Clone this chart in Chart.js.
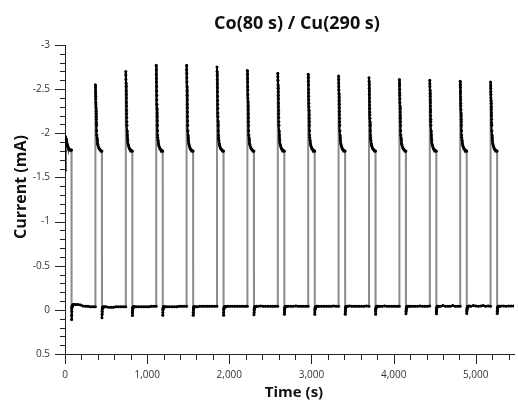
<!DOCTYPE html>
<html>
<head>
<meta charset="utf-8">
<script src="https://cdn.jsdelivr.net/npm/chart.js@4"></script>
<style>
  body { margin: 0; background: #fff; }
</style>
</head>
<body>
<canvas id="chart" width="518" height="401"></canvas>
<script>
// start time of each Co pulse (s); Co lasts 80 s, then Cu 290 s
const coStarts = [0, 370, 740, 1110, 1480, 1850, 2220, 2590, 2960, 3330, 3700, 4070, 4440, 4810, 5180];
const endTime = 5460;

// sample times inside a pulse, relative to its start
const coOffsets = [0,1,2,3,4,5,6,7,8,9,10,11,12,13,14,16,18,20,23,26,30,36,44,52,60,68,74,79];
const cuOffsets = [80,81,82,83,85,87,90,94,100,110,130,160,190,220,250,280,310,340,369];

// current during Co pulses (mA)
const coValues = [
  [-1.58,-1.80,-1.91,-1.95,-1.96,-1.96,-1.95,-1.95,-1.94,-1.94,-1.94,-1.93,-1.93,-1.93,-1.92,-1.92,-1.91,-1.90,-1.89,-1.88,-1.86,-1.85,-1.83,-1.82,-1.81,-1.81,-1.81,-1.81],
  [-2.55,-2.52,-2.48,-2.45,-2.42,-2.39,-2.35,-2.32,-2.29,-2.25,-2.22,-2.19,-2.16,-2.12,-2.09,-2.03,-1.98,-1.95,-1.92,-1.89,-1.87,-1.85,-1.83,-1.82,-1.81,-1.80,-1.80,-1.80],
  [-2.70,-2.66,-2.61,-2.57,-2.53,-2.48,-2.44,-2.40,-2.35,-2.31,-2.26,-2.22,-2.18,-2.13,-2.09,-2.03,-1.98,-1.95,-1.92,-1.89,-1.87,-1.85,-1.83,-1.82,-1.81,-1.80,-1.80,-1.80],
  [-2.77,-2.72,-2.67,-2.62,-2.58,-2.53,-2.48,-2.43,-2.38,-2.33,-2.28,-2.23,-2.19,-2.14,-2.09,-2.03,-1.98,-1.95,-1.92,-1.89,-1.87,-1.85,-1.83,-1.82,-1.81,-1.80,-1.80,-1.80],
  [-2.77,-2.72,-2.68,-2.63,-2.58,-2.53,-2.48,-2.43,-2.38,-2.33,-2.29,-2.24,-2.19,-2.14,-2.09,-2.03,-1.98,-1.95,-1.92,-1.89,-1.87,-1.85,-1.83,-1.82,-1.81,-1.80,-1.80,-1.80],
  [-2.75,-2.70,-2.66,-2.61,-2.56,-2.52,-2.47,-2.42,-2.37,-2.33,-2.28,-2.23,-2.19,-2.14,-2.09,-2.03,-1.98,-1.95,-1.92,-1.89,-1.87,-1.85,-1.83,-1.82,-1.81,-1.80,-1.80,-1.80],
  [-2.71,-2.67,-2.62,-2.58,-2.53,-2.49,-2.44,-2.40,-2.36,-2.31,-2.27,-2.22,-2.18,-2.13,-2.09,-2.03,-1.98,-1.95,-1.92,-1.89,-1.87,-1.85,-1.83,-1.82,-1.81,-1.80,-1.80,-1.80],
  [-2.68,-2.64,-2.60,-2.55,-2.51,-2.47,-2.43,-2.39,-2.34,-2.30,-2.26,-2.22,-2.18,-2.13,-2.09,-2.03,-1.98,-1.95,-1.92,-1.89,-1.87,-1.85,-1.83,-1.82,-1.81,-1.80,-1.80,-1.80],
  [-2.67,-2.63,-2.59,-2.55,-2.50,-2.46,-2.42,-2.38,-2.34,-2.30,-2.26,-2.21,-2.17,-2.13,-2.09,-2.03,-1.98,-1.95,-1.92,-1.89,-1.87,-1.85,-1.83,-1.82,-1.81,-1.80,-1.80,-1.80],
  [-2.65,-2.61,-2.57,-2.53,-2.49,-2.45,-2.41,-2.37,-2.33,-2.29,-2.25,-2.21,-2.17,-2.13,-2.09,-2.03,-1.98,-1.95,-1.92,-1.89,-1.87,-1.85,-1.83,-1.82,-1.81,-1.80,-1.80,-1.80],
  [-2.63,-2.59,-2.55,-2.51,-2.48,-2.44,-2.40,-2.36,-2.32,-2.28,-2.24,-2.21,-2.17,-2.13,-2.09,-2.03,-1.98,-1.95,-1.92,-1.89,-1.87,-1.85,-1.83,-1.82,-1.81,-1.80,-1.80,-1.80],
  [-2.61,-2.57,-2.54,-2.50,-2.46,-2.43,-2.39,-2.35,-2.31,-2.28,-2.24,-2.20,-2.17,-2.13,-2.09,-2.03,-1.98,-1.95,-1.92,-1.89,-1.87,-1.85,-1.83,-1.82,-1.81,-1.80,-1.80,-1.80],
  [-2.60,-2.56,-2.53,-2.49,-2.45,-2.42,-2.38,-2.35,-2.31,-2.27,-2.24,-2.20,-2.16,-2.13,-2.09,-2.03,-1.98,-1.95,-1.92,-1.89,-1.87,-1.85,-1.83,-1.82,-1.81,-1.80,-1.80,-1.80],
  [-2.59,-2.55,-2.52,-2.48,-2.45,-2.41,-2.38,-2.34,-2.31,-2.27,-2.23,-2.20,-2.16,-2.13,-2.09,-2.03,-1.98,-1.95,-1.92,-1.89,-1.87,-1.85,-1.83,-1.82,-1.81,-1.80,-1.80,-1.80],
  [-2.58,-2.54,-2.51,-2.47,-2.44,-2.40,-2.37,-2.34,-2.30,-2.27,-2.23,-2.20,-2.16,-2.12,-2.09,-2.03,-1.98,-1.95,-1.92,-1.89,-1.87,-1.85,-1.83,-1.82,-1.81,-1.80,-1.80,-1.80]
];

// current during Cu pulses (mA)
const cuValues = [
  [0.11,0.06,0.02,-0.01,-0.03,-0.04,-0.05,-0.055,-0.06,-0.06,-0.06,-0.06,-0.055,-0.045,-0.04,-0.04,-0.035,-0.035,-0.035],
  [0.09,0.05,0.02,-0.01,-0.02,-0.03,-0.03,-0.03,-0.035,-0.035,-0.035,-0.03,-0.03,-0.03,-0.035,-0.035,-0.035,-0.035,-0.035],
  [0.065,0.03,0.01,-0.01,-0.02,-0.03,-0.03,-0.035,-0.035,-0.035,-0.035,-0.035,-0.035,-0.035,-0.035,-0.035,-0.04,-0.04,-0.04],
  [0.06,0.03,0.0,-0.01,-0.02,-0.03,-0.035,-0.035,-0.035,-0.035,-0.035,-0.035,-0.035,-0.035,-0.035,-0.04,-0.04,-0.04,-0.04],
  [0.06,0.03,0.0,-0.01,-0.02,-0.03,-0.035,-0.035,-0.035,-0.035,-0.035,-0.04,-0.04,-0.04,-0.04,-0.04,-0.04,-0.04,-0.04],
  [0.06,0.03,0.0,-0.01,-0.02,-0.03,-0.035,-0.035,-0.035,-0.035,-0.04,-0.04,-0.04,-0.04,-0.04,-0.04,-0.04,-0.04,-0.04],
  [0.055,0.03,0.0,-0.01,-0.02,-0.03,-0.035,-0.035,-0.035,-0.04,-0.04,-0.045,-0.04,-0.04,-0.04,-0.04,-0.04,-0.04,-0.04],
  [0.05,0.025,0.0,-0.01,-0.02,-0.03,-0.035,-0.035,-0.04,-0.04,-0.04,-0.04,-0.04,-0.045,-0.04,-0.04,-0.04,-0.04,-0.04],
  [0.05,0.025,0.0,-0.01,-0.02,-0.03,-0.035,-0.035,-0.04,-0.04,-0.04,-0.04,-0.04,-0.04,-0.04,-0.04,-0.045,-0.04,-0.04],
  [0.05,0.025,0.0,-0.01,-0.02,-0.03,-0.035,-0.035,-0.04,-0.04,-0.045,-0.04,-0.04,-0.04,-0.04,-0.04,-0.04,-0.045,-0.04],
  [0.05,0.02,0.0,-0.01,-0.02,-0.03,-0.035,-0.04,-0.04,-0.04,-0.04,-0.04,-0.045,-0.04,-0.04,-0.04,-0.04,-0.04,-0.04],
  [0.045,0.02,0.0,-0.01,-0.02,-0.03,-0.035,-0.04,-0.04,-0.04,-0.04,-0.04,-0.04,-0.04,-0.045,-0.04,-0.04,-0.04,-0.045],
  [0.045,0.02,0.0,-0.01,-0.02,-0.03,-0.035,-0.04,-0.04,-0.04,-0.04,-0.05,-0.04,-0.04,-0.04,-0.05,-0.04,-0.04,-0.04],
  [0.04,0.02,0.0,-0.01,-0.02,-0.03,-0.035,-0.04,-0.04,-0.045,-0.04,-0.05,-0.045,-0.04,-0.045,-0.05,-0.04,-0.045,-0.04],
  [0.04,0.02,0.0,-0.01,-0.02,-0.03,-0.035,-0.04,-0.04,-0.04,-0.045,-0.045,-0.04,-0.045,-0.045,-0.045,-0.045,-0.045,-0.045]
];

const xTicks = [0, 1000, 2000, 3000, 4000, 5000];
const yTicks = [-3, -2.5, -2, -1.5, -1, -0.5, 0, 0.5];

// build the point list
const points = [];
coStarts.forEach((t0, k) => {
  coOffsets.forEach((dt, i) => points.push({ x: t0 + dt, y: coValues[k][i] }));
  cuOffsets.forEach((dt, i) => {
    if (t0 + dt <= endTime) points.push({ x: t0 + dt, y: cuValues[k][i] });
  });
});

const FONT = "'Open Sans', 'Noto Sans', sans-serif";
const AREA = { left: 65, right: 517, top: 45, bottom: 354 };

// title and axis titles drawn by hand to sit where the original has them
const textPlugin = {
  id: 'titles',
  afterDraw(chart) {
    const ctx = chart.ctx;
    ctx.save();
    ctx.fillStyle = '#111';
    ctx.textAlign = 'center';
    ctx.textBaseline = 'middle';
    ctx.font = 'bold 18px ' + FONT;
    ctx.fillText('Co(80 s) / Cu(290 s)', 297, 24);
    ctx.font = 'bold 15px ' + FONT;
    ctx.fillText('Time (s)', 294, 393);
    ctx.translate(21, 187);
    ctx.rotate(-Math.PI / 2);
    ctx.font = 'bold 16px ' + FONT;
    ctx.fillText('Current (mA)', 0, 0);
    ctx.restore();
  }
};

// major + minor tick marks, outside the axes
const tickPlugin = {
  id: 'minorTicks',
  afterDraw(chart) {
    const ctx = chart.ctx;
    const xs = chart.scales.x, ys = chart.scales.y;
    const bottom = chart.chartArea.bottom, left = chart.chartArea.left;
    ctx.save();
    ctx.strokeStyle = '#222';
    ctx.lineWidth = 1;
    ctx.beginPath();
    for (let v = 0; v <= 5400; v += 200) {
      const px = Math.round(xs.getPixelForValue(v)) + 0.5;
      const len = v % 1000 === 0 ? 10 : 6;
      ctx.moveTo(px, bottom);
      ctx.lineTo(px, bottom + len);
    }
    for (let i = -30; i <= 5; i++) {
      const py = Math.round(ys.getPixelForValue(i / 10)) + 0.5;
      const len = i % 5 === 0 ? 10 : 5;
      ctx.moveTo(left, py);
      ctx.lineTo(left - len, py);
    }
    ctx.stroke();
    ctx.restore();
  }
};

new Chart(document.getElementById('chart'), {
  type: 'line',
  data: {
    datasets: [{
      data: points,
      borderColor: '#000',
      borderWidth: 2,
      pointRadius: 1.5,
      pointBorderWidth: 0,
      pointBackgroundColor: '#000',
      tension: 0,
      segment: {
        // big jumps between Co and Cu are drawn in grey
        borderColor: c => Math.abs(c.p1.parsed.y - c.p0.parsed.y) > 0.25 ? '#8c8c8c' : '#000'
      }
    }]
  },
  options: {
    responsive: false,
    animation: false,
    layout: { padding: { top: AREA.top, right: 518 - AREA.right, left: 0, bottom: 0 } },
    plugins: {
      legend: { display: false },
      tooltip: { enabled: false },
      title: { display: false }
    },
    scales: {
      x: {
        type: 'linear',
        min: 0,
        max: 5465,
        afterFit: s => { s.height = 401 - AREA.bottom; },
        afterBuildTicks: s => { s.ticks = xTicks.map(v => ({ value: v })); },
        ticks: {
          includeBounds: false,
          maxRotation: 0,
          padding: 15,
          color: '#333',
          font: { family: FONT, size: 10 },
          callback: v => v.toLocaleString('en-US')
        },
        grid: { display: false, drawTicks: false },
        border: { color: '#222', width: 1 }
      },
      y: {
        type: 'linear',
        reverse: true,
        min: -3,
        max: 0.5,
        afterFit: s => { s.width = AREA.left; },
        afterBuildTicks: s => { s.ticks = yTicks.map(v => ({ value: v })); },
        ticks: {
          padding: 15,
          color: '#333',
          font: { family: FONT, size: 10 },
          callback: v => String(v)
        },
        grid: { display: false, drawTicks: false },
        border: { color: '#222', width: 1 }
      }
    }
  },
  plugins: [textPlugin, tickPlugin]
});
</script>
</body>
</html>
